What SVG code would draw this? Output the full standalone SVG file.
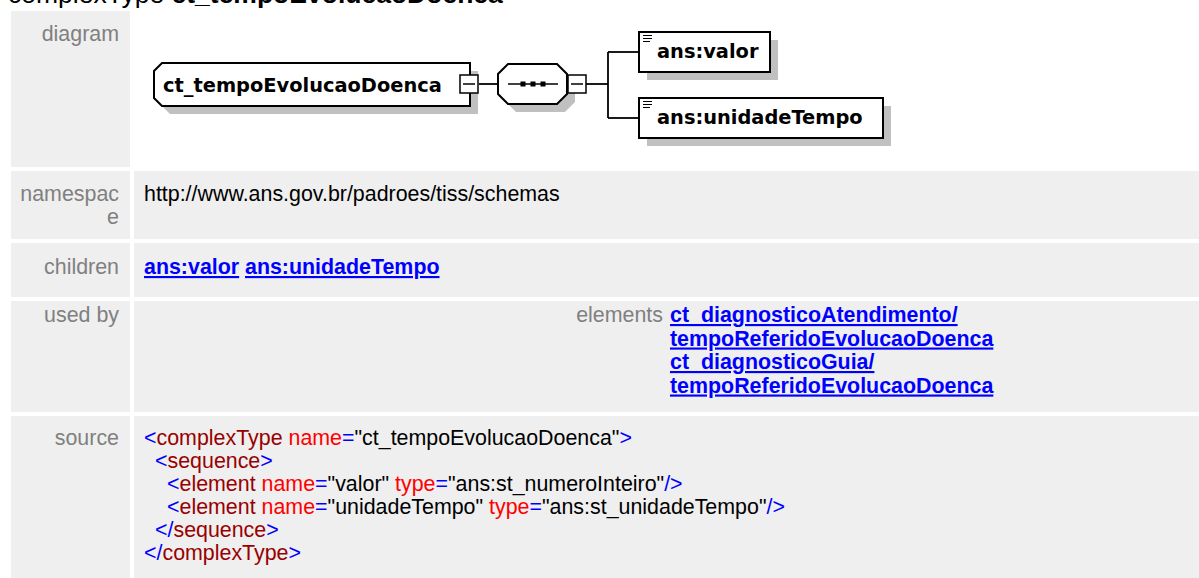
<svg xmlns="http://www.w3.org/2000/svg" width="1199" height="578" viewBox="0 0 1199 578">
<style>
.t{font-family:"Liberation Sans",Arial,sans-serif;font-size:21.4px;fill:#000}
.lbl{font-family:"Liberation Sans",Arial,sans-serif;font-size:21.4px;fill:#808080;text-anchor:end}
.lnk{font-family:"Liberation Sans",Arial,sans-serif;font-size:21.4px;font-weight:bold;fill:#0000FF;text-decoration:underline}
.cell{fill:#EFEFEF}
.dg{font-family:"DejaVu Sans",Verdana,sans-serif;font-size:19.4px;font-weight:bold;fill:#000}
.box{fill:#fff;stroke:#000;stroke-width:2}
.shadow{fill:#C0C0C0}
.con{stroke:#000;stroke-width:1.8;fill:none}
.mb{fill:#fff;stroke:#000;stroke-width:1.5}
.b{fill:#0000FF}.e{fill:#990000}.a{fill:#FF0000}
</style>
<rect width="1199" height="578" fill="#fff"/>
<text class="t" x="8" y="3" style="font-size:26.5px">complexType <tspan font-weight="bold">ct_tempoEvolucaoDoenca</tspan></text>

<!-- table cells -->
<rect class="cell" x="11" y="11" width="119" height="156"/>
<rect class="cell" x="11" y="171" width="119" height="68"/>
<rect class="cell" x="134" y="171" width="1065" height="68"/>
<rect class="cell" x="11" y="243" width="119" height="54"/>
<rect class="cell" x="134" y="243" width="1065" height="54"/>
<rect class="cell" x="11" y="301" width="119" height="111"/>
<rect class="cell" x="134" y="301" width="1065" height="111"/>
<rect class="cell" x="11" y="416" width="119" height="162"/>
<rect class="cell" x="134" y="416" width="1065" height="162"/>

<text class="lbl" x="119" y="41">diagram</text>
<text class="lbl" x="119" y="201">namespac</text>
<text class="lbl" x="119" y="224">e</text>
<text class="lbl" x="119" y="274">children</text>
<text class="lbl" x="119" y="322">used by</text>
<text class="lbl" x="119" y="445">source</text>

<text class="t" x="144" y="201">http://www.ans.gov.br/padroes/tiss/schemas</text>
<text class="lnk" x="144" y="274">ans:valor</text>
<text class="lnk" x="245" y="274">ans:unidadeTempo</text>

<text class="lbl" x="663" y="322">elements</text>
<text class="lnk" x="670" y="322">ct_diagnosticoAtendimento/</text>
<text class="lnk" x="670" y="345.5">tempoReferidoEvolucaoDoenca</text>
<text class="lnk" x="670" y="369">ct_diagnosticoGuia/</text>
<text class="lnk" x="670" y="392.5">tempoReferidoEvolucaoDoenca</text>

<text class="t" x="144" y="445"><tspan class="b">&lt;</tspan><tspan class="e">complexType</tspan> <tspan class="a">name</tspan><tspan class="b">=</tspan>"ct_tempoEvolucaoDoenca"<tspan class="b">&gt;</tspan></text>
<text class="t" x="155" y="468"><tspan class="b">&lt;</tspan><tspan class="e">sequence</tspan><tspan class="b">&gt;</tspan></text>
<text class="t" x="167" y="491"><tspan class="b">&lt;</tspan><tspan class="e">element</tspan> <tspan class="a">name</tspan><tspan class="b">=</tspan>"valor" <tspan class="a">type</tspan><tspan class="b">=</tspan>"ans:st_numeroInteiro"<tspan class="b">/&gt;</tspan></text>
<text class="t" x="167" y="514"><tspan class="b">&lt;</tspan><tspan class="e">element</tspan> <tspan class="a">name</tspan><tspan class="b">=</tspan>"unidadeTempo" <tspan class="a">type</tspan><tspan class="b">=</tspan>"ans:st_unidadeTempo"<tspan class="b">/&gt;</tspan></text>
<text class="t" x="155" y="537"><tspan class="b">&lt;/</tspan><tspan class="e">sequence</tspan><tspan class="b">&gt;</tspan></text>
<text class="t" x="144" y="560"><tspan class="b">&lt;/</tspan><tspan class="e">complexType</tspan><tspan class="b">&gt;</tspan></text>

<!-- connectors -->
<g id="connectors">
<path class="con" d="M479 84H498"/>
<path class="con" d="M586 84H608"/>
<path class="con" d="M608 52V118"/>
<path class="con" d="M608 52H639"/>
<path class="con" d="M608 118H639"/>
</g>

<g id="node-ct_tempoEvolucaoDoenca">
<polygon class="shadow" points="170,71 478,71 478,114 170,114 162,106 162,79"/>
<polygon class="box" points="162,63 470,63 470,106 162,106 154,98 154,71"/>
<text class="dg" x="163" y="92">ct_tempoEvolucaoDoenca</text>
<rect class="mb" x="460" y="75" width="18" height="18"/>
<path d="M463 84H475" stroke="#000" stroke-width="1.5"/>
</g>

<g id="node-sequence">
<polygon class="shadow" points="516,72 565,72 575,82 575,102 565,112 516,112 506,102 506,82"/>
<polygon class="box" points="508,64 557,64 567,74 567,94 557,104 508,104 498,94 498,74"/>
<path d="M508 84H558" stroke="#000" stroke-width="1.5"/>
<rect x="520.5" y="81.5" width="5" height="5" fill="#000"/>
<rect x="530.5" y="81.5" width="5" height="5" fill="#000"/>
<rect x="540.5" y="81.5" width="5" height="5" fill="#000"/>
<rect class="mb" x="568" y="75" width="18" height="18"/>
<path d="M571 84H583" stroke="#000" stroke-width="1.5"/>
</g>

<g id="node-valor">
<rect class="shadow" x="647" y="40" width="131" height="40"/>
<rect class="box" x="639" y="32" width="131" height="40"/>
<path d="M643 35.5H652M643 38.5H652M643 41.5H650" stroke="#000" stroke-width="1.2"/>
<text class="dg" x="657" y="58">ans:valor</text>
</g>

<g id="node-unidadeTempo">
<rect class="shadow" x="647" y="106" width="244" height="40"/>
<rect class="box" x="639" y="98" width="244" height="40"/>
<path d="M643 101.5H652M643 104.5H652M643 107.5H650" stroke="#000" stroke-width="1.2"/>
<text class="dg" x="657" y="124">ans:unidadeTempo</text>
</g>
</svg>
